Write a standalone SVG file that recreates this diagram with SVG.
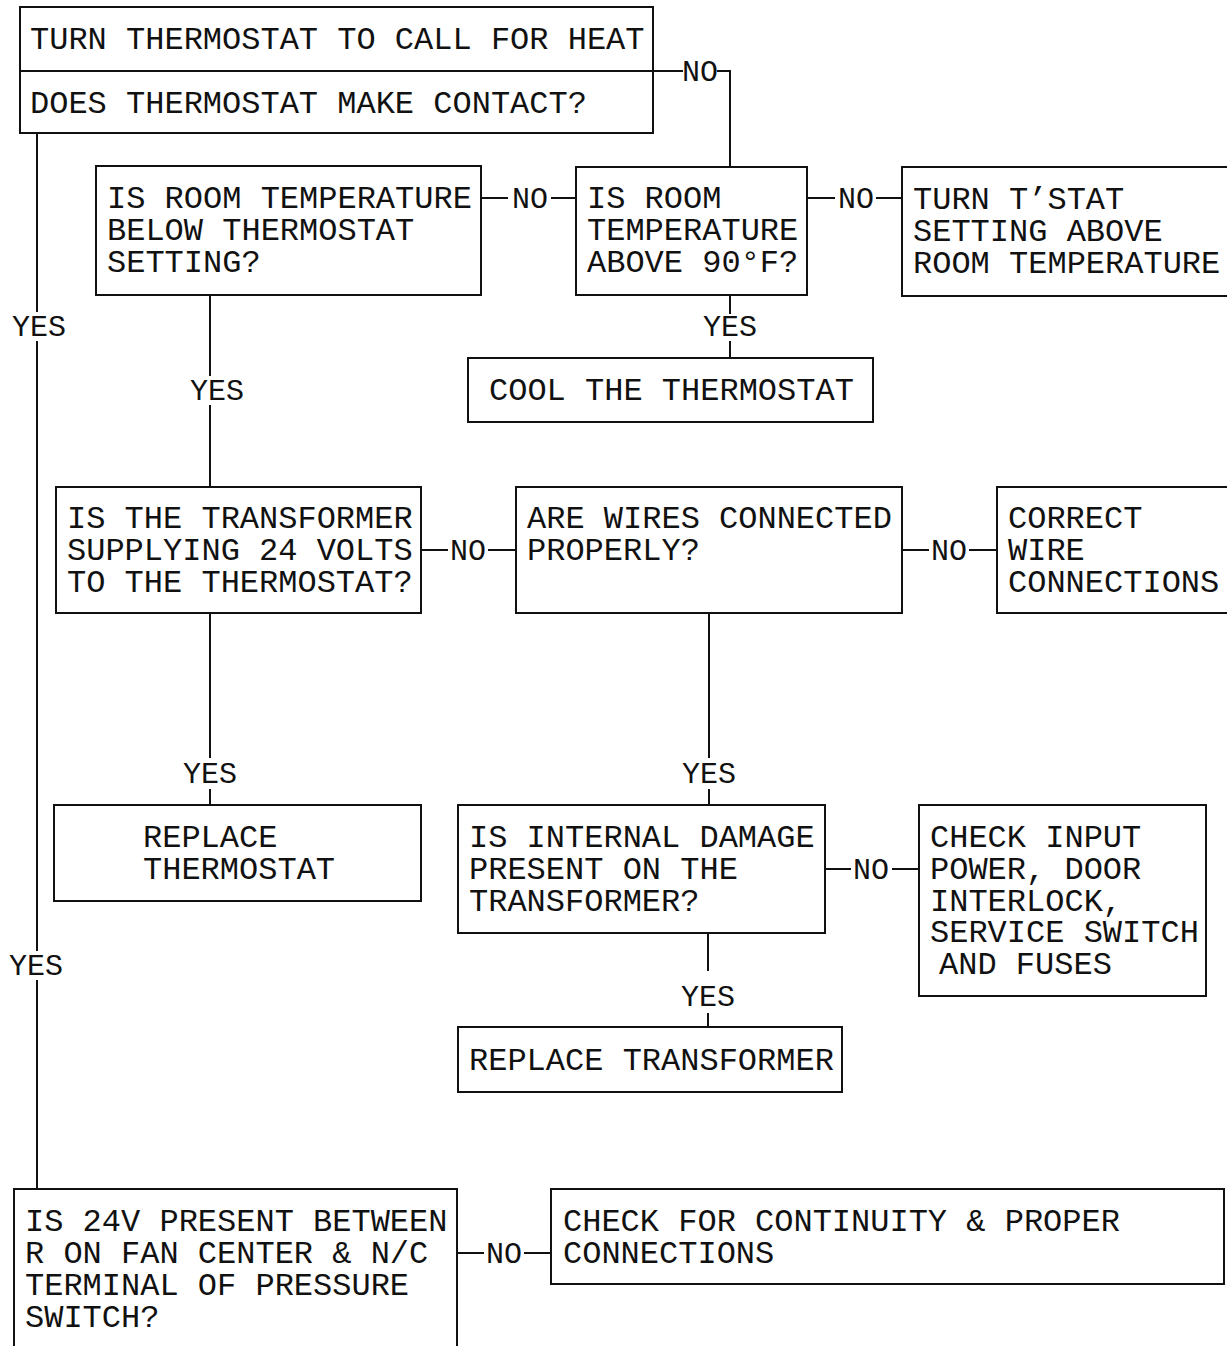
<svg xmlns="http://www.w3.org/2000/svg" width="1227" height="1346" viewBox="0 0 1227 1346">
<style>
.box{fill:#fff;stroke:#111;stroke-width:2}
.t{font-family:"Liberation Mono","Courier New",monospace;font-size:32px;fill:#111}
.lbl{font-family:"Liberation Mono","Courier New",monospace;font-size:30px;fill:#111}
.c{stroke:#111;stroke-width:2;fill:none}
</style>
<rect width="1227" height="1346" fill="#fff"/>
<g id="connectors">
<path class="c" d="M653,71 H683 M717,71 H730 V167"/>
<text class="lbl" x="700" y="81" text-anchor="middle">NO</text>
<path class="c" d="M37,133 V312 M37,341 V951 M37,980 V1189"/>
<text class="lbl" x="39" y="336" text-anchor="middle">YES</text>
<text class="lbl" x="36" y="975" text-anchor="middle">YES</text>
<path class="c" d="M481,198 H508 M551,198 H576"/>
<text class="lbl" x="530" y="208" text-anchor="middle">NO</text>
<path class="c" d="M807,198 H835 M876,198 H902"/>
<text class="lbl" x="856" y="208" text-anchor="middle">NO</text>
<path class="c" d="M730,295 V314 M730,341 V358"/>
<text class="lbl" x="730" y="336" text-anchor="middle">YES</text>
<path class="c" d="M210,295 V376 M210,405 V487"/>
<text class="lbl" x="217" y="400" text-anchor="middle">YES</text>
<path class="c" d="M421,550 H448 M488,550 H516"/>
<text class="lbl" x="468" y="560" text-anchor="middle">NO</text>
<path class="c" d="M902,550 H929 M969,550 H997"/>
<text class="lbl" x="949" y="560" text-anchor="middle">NO</text>
<path class="c" d="M210,613 V758 M210,789 V805"/>
<text class="lbl" x="210" y="783" text-anchor="middle">YES</text>
<path class="c" d="M709,613 V758 M709,789 V805"/>
<text class="lbl" x="709" y="783" text-anchor="middle">YES</text>
<path class="c" d="M825,869 H851 M892,869 H919"/>
<text class="lbl" x="871" y="879" text-anchor="middle">NO</text>
<path class="c" d="M708,933 V971 M708,1013 V1027"/>
<text class="lbl" x="708" y="1006" text-anchor="middle">YES</text>
<path class="c" d="M457,1253 H484 M524,1253 H551"/>
<text class="lbl" x="504" y="1263" text-anchor="middle">NO</text>
</g>
<g id="n1">
<rect class="box" x="20" y="7" width="633" height="126"/>
<line class="c" x1="20" y1="71" x2="653" y2="71"/>
<text class="t" x="30" y="49">TURN THERMOSTAT TO CALL FOR HEAT</text>
<text class="t" x="30" y="113">DOES THERMOSTAT MAKE CONTACT?</text>
</g>
<g id="n2">
<rect class="box" x="96" y="166" width="385" height="129"/>
<text class="t" x="107" y="208">IS ROOM TEMPERATURE</text>
<text class="t" x="107" y="240">BELOW THERMOSTAT</text>
<text class="t" x="107" y="272">SETTING?</text>
</g>
<g id="n3">
<rect class="box" x="576" y="167" width="231" height="128"/>
<text class="t" x="587" y="208">IS ROOM</text>
<text class="t" x="587" y="240">TEMPERATURE</text>
<text class="t" x="587" y="272">ABOVE 90°F?</text>
</g>
<g id="n4">
<rect class="box" x="902" y="167" width="330" height="129"/>
<text class="t" x="913" y="209">TURN T’STAT</text>
<text class="t" x="913" y="241">SETTING ABOVE</text>
<text class="t" x="913" y="273">ROOM TEMPERATURE</text>
</g>
<g id="n5">
<rect class="box" x="468" y="358" width="405" height="64"/>
<text class="t" x="489" y="400">COOL THE THERMOSTAT</text>
</g>
<g id="n6">
<rect class="box" x="56" y="487" width="365" height="126"/>
<text class="t" x="67" y="528">IS THE TRANSFORMER</text>
<text class="t" x="67" y="560">SUPPLYING 24 VOLTS</text>
<text class="t" x="67" y="592">TO THE THERMOSTAT?</text>
</g>
<g id="n7">
<rect class="box" x="516" y="487" width="386" height="126"/>
<text class="t" x="527" y="528">ARE WIRES CONNECTED</text>
<text class="t" x="527" y="560">PROPERLY?</text>
</g>
<g id="n8">
<rect class="box" x="997" y="487" width="235" height="126"/>
<text class="t" x="1008" y="528">CORRECT</text>
<text class="t" x="1008" y="560">WIRE</text>
<text class="t" x="1008" y="592">CONNECTIONS</text>
</g>
<g id="n9">
<rect class="box" x="54" y="805" width="367" height="96"/>
<text class="t" x="143" y="847">REPLACE</text>
<text class="t" x="143" y="879">THERMOSTAT</text>
</g>
<g id="n10">
<rect class="box" x="458" y="805" width="367" height="128"/>
<text class="t" x="469" y="847">IS INTERNAL DAMAGE</text>
<text class="t" x="469" y="879">PRESENT ON THE</text>
<text class="t" x="469" y="911">TRANSFORMER?</text>
</g>
<g id="n11">
<rect class="box" x="919" y="805" width="287" height="191"/>
<text class="t" x="930" y="847">CHECK INPUT</text>
<text class="t" x="930" y="879">POWER, DOOR</text>
<text class="t" x="930" y="911">INTERLOCK,</text>
<text class="t" x="930" y="942">SERVICE SWITCH</text>
<text class="t" x="939" y="974">AND FUSES</text>
</g>
<g id="n12">
<rect class="box" x="458" y="1027" width="384" height="65"/>
<text class="t" x="469" y="1070">REPLACE TRANSFORMER</text>
</g>
<g id="n13">
<path class="box" d="M14,1350 V1189 H457 V1350"/>
<text class="t" x="25" y="1231">IS 24V PRESENT BETWEEN</text>
<text class="t" x="25" y="1263">R ON FAN CENTER &amp; N/C</text>
<text class="t" x="25" y="1295">TERMINAL OF PRESSURE</text>
<text class="t" x="25" y="1327">SWITCH?</text>
</g>
<g id="n14">
<rect class="box" x="551" y="1189" width="673" height="95"/>
<text class="t" x="563" y="1231">CHECK FOR CONTINUITY &amp; PROPER</text>
<text class="t" x="563" y="1263">CONNECTIONS</text>
</g>
</svg>
